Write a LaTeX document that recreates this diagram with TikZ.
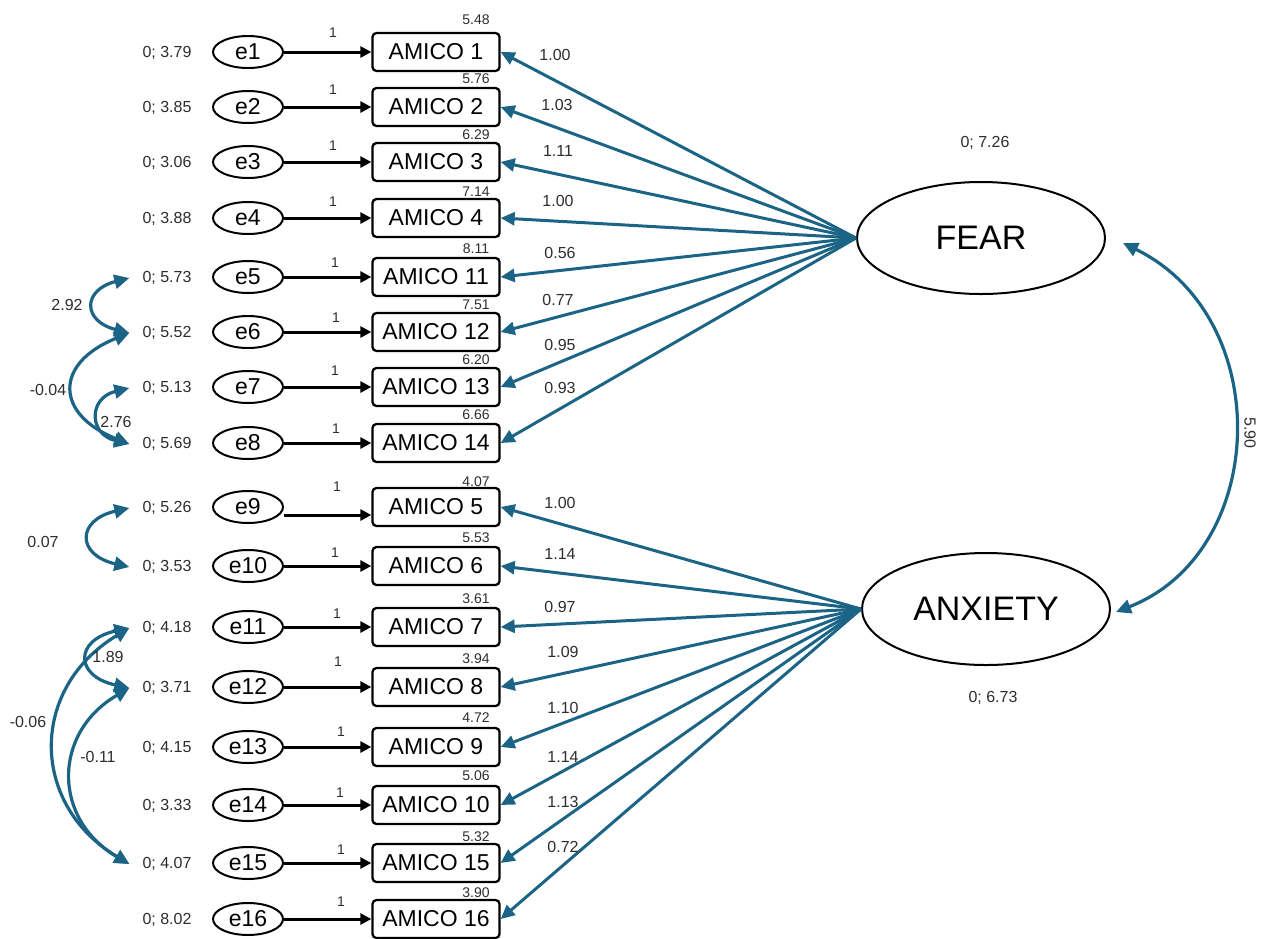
\documentclass[tikz,border=0pt]{standalone}
\usepackage{fontspec}
\setmainfont{Liberation Sans}
\usetikzlibrary{arrows.meta,shapes.geometric}
\definecolor{tealarc}{RGB}{28,100,133}
\definecolor{numgray}{RGB}{45,45,45}
\begin{document}
\begin{tikzpicture}[x=1pt,y=-1pt,
  errell/.style={ellipse, draw, line width=2pt, minimum width=70pt, minimum height=32pt, inner sep=0pt, font=\fontsize{23}{25}\selectfont},
  obsbox/.style={draw, rounded corners=4pt, line width=2.3pt, minimum width=127pt, minimum height=38pt, inner sep=0pt, font=\fontsize{23}{25}\selectfont},
  latent/.style={ellipse, draw, line width=2pt, minimum width=248pt, minimum height=112pt, inner sep=0pt, font=\fontsize{34}{36}\selectfont},
  numlab/.style={font=\fontsize{16}{18}\selectfont, text=numgray, inner sep=0pt},
  smalllab/.style={font=\fontsize{14}{16}\selectfont, text=numgray, inner sep=0pt},
  errarr/.style={line width=3pt, -{Triangle[length=11pt,width=11pt]}},
  loadarr/.style={draw=tealarc, line width=3pt, -{Triangle[length=14pt,width=13pt]}, tealarc},
  covarr/.style={draw=tealarc, line width=3.2pt, {Triangle[length=15pt,width=14pt]}-{Triangle[length=15pt,width=14pt]}, tealarc}
]
\useasboundingbox (0,0) rectangle (1269,938);

% latent variables
\node[latent] (fear) at (981,238) {FEAR};
\node[latent] (anx) at (986,609) {ANXIETY};
\node[numlab] (fearvar) at (985,143) {0; 7.26};
\node[numlab] (anxvar) at (993,698) {0; 6.73};

\foreach \i/\v/\bx/\ic/\y/\iy/\ox/\oy/\ld/\lx/\ly/\lat/\as in {
1/3.79/1/5.48/52/20/333/33/1.00/555/55/fear/0,
2/3.85/2/5.76/107/79/333/90/1.03/557/105/fear/0,
3/3.06/3/6.29/162/135/333/146/1.11/558/151/fear/0,
4/3.88/4/7.14/218/192/333/202/1.00/558/201/fear/0,
5/5.73/11/8.11/277/249/335/263/0.56/560/253/fear/0,
6/5.52/12/7.51/332/305/336/318/0.77/558/300/fear/0,
7/5.13/13/6.20/387/360/335/371/0.95/560/345/fear/0,
8/5.69/14/6.66/443/415/336/429/0.93/560/388/fear/0,
9/5.26/5/4.07/507/482/337/487/1.00/560/503/anx/-8,
10/3.53/6/5.53/566/538/335/553/1.14/560/554/anx/0,
11/4.18/7/3.61/627/599/337/614/0.97/560/607/anx/0,
12/3.71/8/3.94/687/659/338/662/1.09/563/652/anx/0,
13/4.15/9/4.72/747/718/341/732/1.10/563/708/anx/0,
14/3.33/10/5.06/805/776/340/793/1.14/563/757/anx/0,
15/4.07/15/5.32/863/837/341/850/1.13/563/802/anx/0,
16/8.02/16/3.90/919/893/341/902/0.72/563/847/anx/0}{
  \node[errell] (e\i) at (248,\y) {e\i};
  \node[obsbox] (a\i) at (436,\y) {AMICO \bx};
  \node[numlab] (v\i) at (167,\y+1) {0; \v};
  \coordinate (t\i) at ([xshift=-13pt]v\i.west);
  \node[smalllab] (ic\i) at (476,\iy) {\ic};
  \node[smalllab] (one\i) at (\ox,\oy) {1};
  \draw[errarr] ([yshift=\as pt]e\i.east) -- ([yshift=\as pt]a\i.west);
  \draw[loadarr] (\lat.west) -- (a\i.east);
  \node[numlab] (ld\i) at (\lx,\ly) {\ld};
}

% covariances between errors
\draw[covarr] (t5) .. controls +(-47,12) and +(-47,-12) .. (t6);
\draw[covarr] (t6) .. controls +(-75,30) and +(-75,-30) .. (t8);
\draw[covarr] (t7) .. controls +(-41,10) and +(-41,-10) .. (t8);
\draw[covarr] (t9) .. controls +(-53,12) and +(-53,-12) .. (t10);
\draw[covarr] (t11) .. controls +(-55,12) and +(-55,-12) .. (t12);
\draw[covarr] (t11) .. controls +(-100,60) and +(-100,-60) .. (t15);
\draw[covarr] (t12) .. controls +(-77,45) and +(-77,-45) .. (t15);

\node[numlab] (c56) at (67,305) {2.92};
\node[numlab] (c68) at (48,390) {-0.04};
\node[numlab] (c78) at (116,422) {2.76};
\node[numlab] (c910) at (43,542) {0.07};
\node[numlab] (c1112) at (108,657) {1.89};
\node[numlab] (c1115) at (28,722) {-0.06};
\node[numlab] (c1215) at (98,757) {-0.11};

% covariance between latent factors
\coordinate (rf) at ([xshift=17pt,yshift=-5pt]fear.east);
\coordinate (ra) at ([xshift=5pt,yshift=-3pt]anx.east);
\draw[covarr] (rf) .. controls +(153,75) and +(153,-60) .. (ra);
\node[numlab, rotate=-90] (c590) at (1250,433) {5.90};
\end{tikzpicture}
\end{document}
